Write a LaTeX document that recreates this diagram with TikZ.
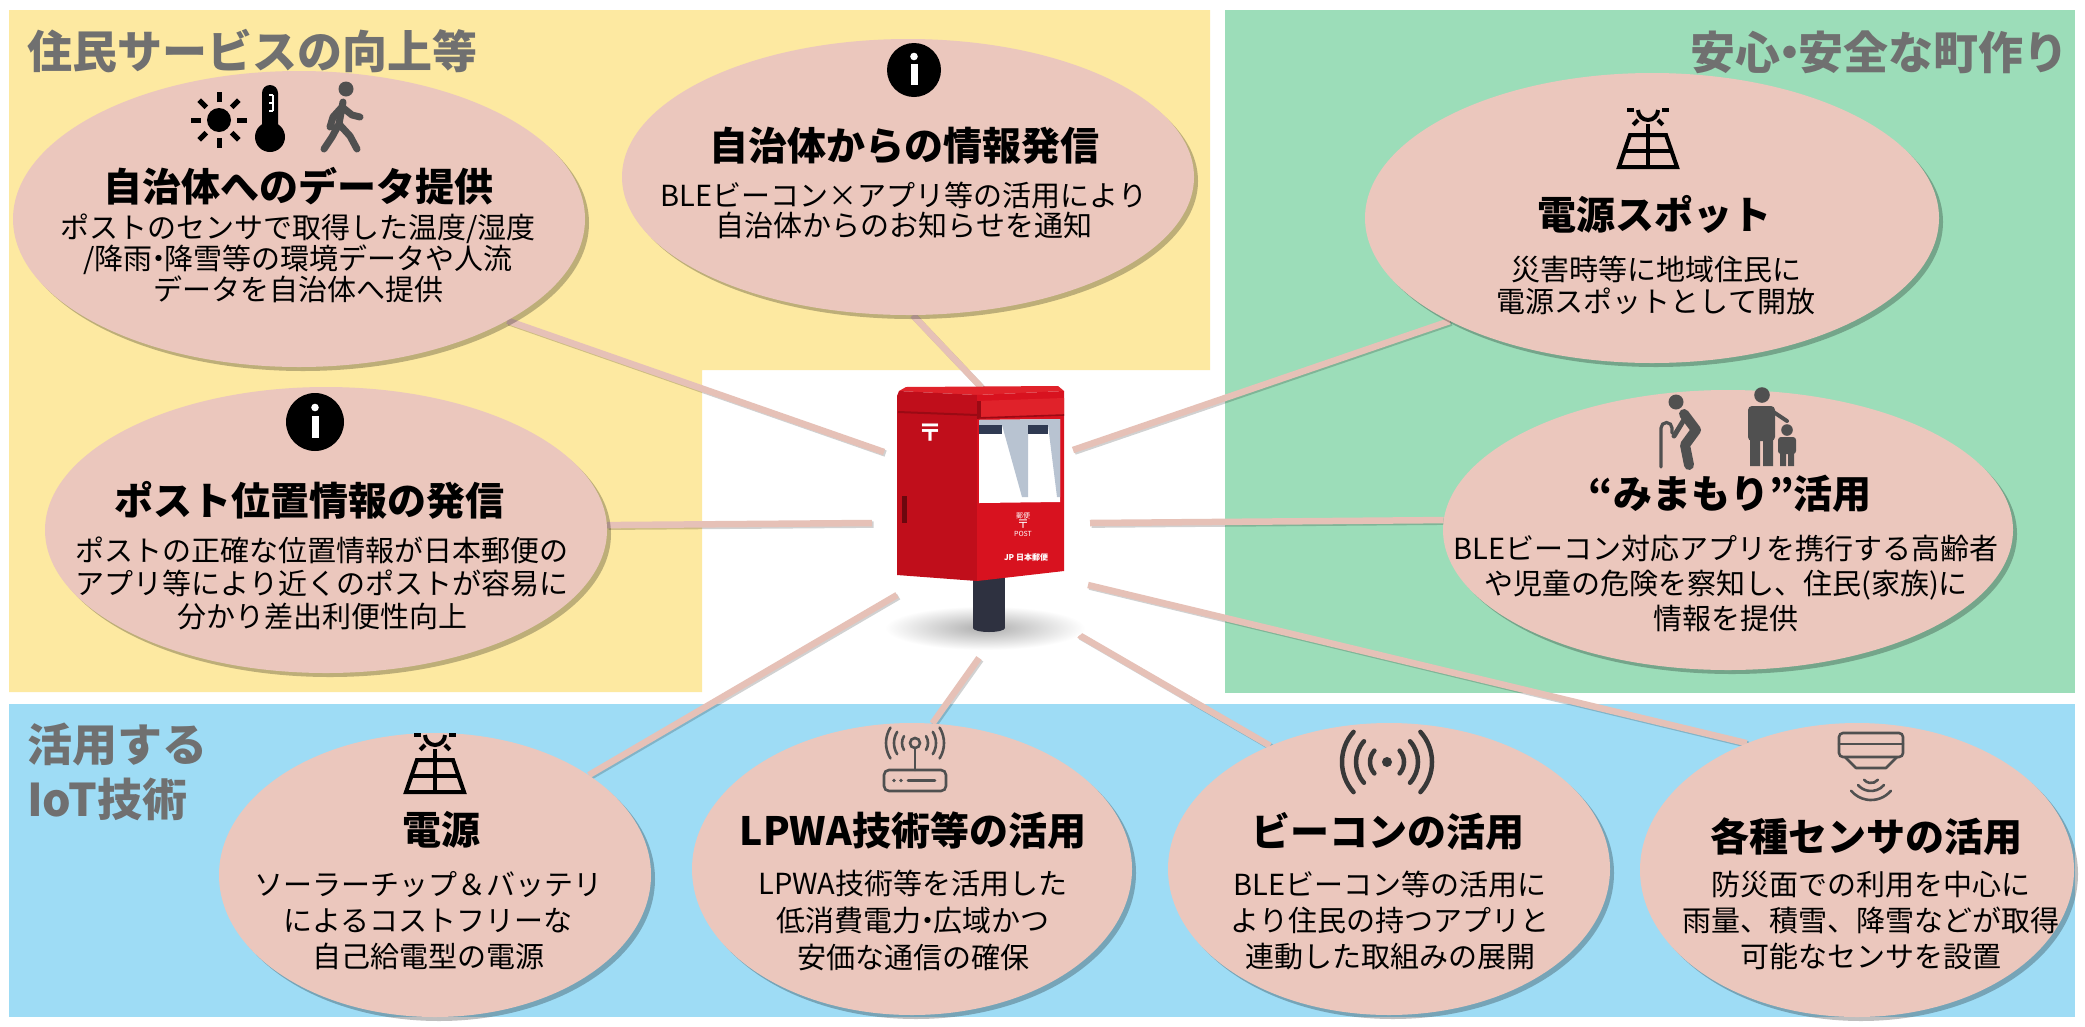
\documentclass[tikz,border=0pt]{standalone}
\usepackage{fontspec}
\setmainfont{Noto Sans CJK JP}
\usetikzlibrary{shapes.geometric,shadows}

\definecolor{bgyellow}{HTML}{FDE9A1}
\definecolor{bggreen}{HTML}{9CDDB9}
\definecolor{bgblue}{HTML}{9EDCF5}
\definecolor{bubble}{HTML}{EBC7BD}
\definecolor{linkc}{HTML}{E6C1B7}
\definecolor{sectgrey}{HTML}{707070}
\definecolor{icongrey}{HTML}{505050}
\definecolor{pbfront}{HTML}{D8121F}
\definecolor{pbleft}{HTML}{C00E1B}
\definecolor{pbband}{HTML}{E0222A}
\definecolor{pbdark}{HTML}{9A0A14}
\definecolor{polec}{HTML}{2E3140}
\definecolor{slotc}{HTML}{2F3A52}
\definecolor{glassc}{HTML}{B8C3D1}

\pgfdeclarelayer{bg}
\pgfdeclarelayer{links}
\pgfsetlayers{bg,links,main}

% narrow middle dot
\newcommand\ndot{\kern-.3em・\kern-.3em}

% connector with a soft offset shade underneath
\newcommand\linkpath[2]{%
  \draw[linkshade] #1 -- #2;
  \draw[link] #1 -- #2;}

% solar panel with a half sun, origin at the top centre
\newcommand\solarglyph[2]{%
  \begin{scope}[shift={(#1,#2)}, line width=4pt, draw=black]
    \draw (-10,8) arc[start angle=180, end angle=0, radius=10];
    \foreach \a in {0,45,135,180} \draw (0,8) ++(\a:14) -- ++(\a:7);
    \draw (0,22) -- (0,33);
    \draw[line join=miter] (-18,33) -- (18,33) -- (29,65) -- (-29,65) -- cycle;
    \draw (-23.5,49) -- (23.5,49);
    \draw (0,33) -- (0,65);
  \end{scope}}

% round information mark
\newcommand\infoglyph[3]{%
  \fill[black] (#1,#2) circle (#3);
  \fill[white] (#1,#2) ++(0,-0.5*#3) circle (3.8);
  \fill[white] (#1,#2) ++(-3.5,-0.22*#3) rectangle ++(7,0.78*#3);}

\tikzset{
  bubblebox/.style={ellipse, fill=bubble, draw=none, inner sep=0pt,
    drop shadow={shadow xshift=4pt, shadow yshift=-4pt, opacity=0.25, fill=black}},
  head/.style={font=\fontsize{39}{44}\selectfont\bfseries, text=black, inner sep=0pt},
  body/.style={align=center, text=black, inner sep=0pt, font=\fontsize{29}{#1}\selectfont},
  sect/.style={font=\fontsize{45}{55}\selectfont\bfseries, text=sectgrey, inner sep=0pt},
  link/.style={line width=6.5pt, draw=linkc},
  linkshade/.style={line width=6.5pt, draw=black, opacity=0.18,
    transform canvas={xshift=1.6pt, yshift=-1.6pt}},
  gline/.style={icongrey, line width=2.6pt, line cap=round},
}

\begin{document}
\begin{tikzpicture}[x=1pt, y=-1pt]
\useasboundingbox (0,0) rectangle (2085,1026);

% coloured theme areas
\begin{pgfonlayer}{bg}
  \fill[white] (0,0) rectangle (2085,1026);
  \fill[bgyellow] (9,10) -- (1210,10) -- (1210,370) -- (702,370) -- (702,692) -- (9,692) -- cycle;
  \fill[bggreen] (1225,10) rectangle (2075,693);
  \fill[bgblue] (9,704) rectangle (2075,1017);
\end{pgfonlayer}

% section captions
\node[sect, anchor=west] (capA) at (27,51) {住民サービスの向上等};
\node[sect, anchor=east] (capB) at (2069,52) {安心\ndot 安全な町作り};
\node[sect, anchor=west, align=left] (capC) at (27,772) {活用する\\IoT技術};

% bubbles
\node[bubblebox, minimum width=572pt, minimum height=296pt] (e1) at (299,219) {};
\node[bubblebox, minimum width=572pt, minimum height=276pt] (e2) at (908,177) {};
\node[bubblebox, minimum width=574pt, minimum height=290pt] (e3) at (1652,218) {};
\node[bubblebox, minimum width=562pt, minimum height=286pt] (e4) at (326,530) {};
\node[bubblebox, minimum width=570pt, minimum height=280pt] (e5) at (1728,530) {};
\node[bubblebox, minimum width=432pt, minimum height=284pt] (e6) at (435,875) {};
\node[bubblebox, minimum width=440pt, minimum height=292pt] (e7) at (912,869) {};
\node[bubblebox, minimum width=442pt, minimum height=292pt] (e8) at (1389,869) {};
\node[bubblebox, minimum width=434pt, minimum height=294pt] (e9) at (1857,870) {};

% inner ends of the spokes around the post box
\coordinate (p1) at (884,452);
\coordinate (p2) at (981,387);
\coordinate (p3) at (1073,450);
\coordinate (p4) at (872,523);
\coordinate (p5) at (1090,523);
\coordinate (p6) at (897,595);
\coordinate (p7) at (979,658);
\coordinate (p8) at (1079,635);
\coordinate (p9) at (1088,585);

\begin{pgfonlayer}{links}
  \linkpath{(e1.-26)}{(p1)}
  \linkpath{(e2.-88)}{(p2)}
  \linkpath{(e3.207)}{(p3)}
  \linkpath{(e4.1.5)}{(p4)}
  \linkpath{(e5.178.5)}{(p5)}
  \linkpath{(e6.33)}{(p6)}
  \linkpath{(e7.82)}{(p7)}
  \linkpath{(e8.134)}{(p8)}
  \linkpath{(e9.131)}{(p9)}
\end{pgfonlayer}

% ---- bubble 1: data for the municipality
\fill[black] (219,120) circle (12);
\foreach \a in {0,45,...,315} \draw[black, line width=5pt] (219,120) ++(\a:18) -- ++(\a:10);
\fill[black, rounded corners=8pt] (262,85) rectangle (278,134);
\fill[black] (270,137) circle (15);
\draw[white, line width=1.6pt] (273,95) -- (273,111) (269,95) -- (273,95) (269,103) -- (273,103) (269,111) -- (273,111);
\fill[icongrey] (346,89) circle (7.5);
\draw[icongrey, line width=7pt, line cap=round, line join=round]
  (343,102) -- (339,124) -- (332,137) -- (324,149)
  (339,124) -- (350,136) -- (357,149)
  (342,107) -- (333,117) -- (330,127)
  (342,107) -- (352,115) -- (360,117);
\node[head] (h1) at (298,186) {自治体へのデータ提供};
\node[body=28] (b1) at (298,258) {ポストのセンサで取得した温度/湿度\\/降雨\ndot 降雪等の環境データや人流\\データを自治体へ提供};

% ---- bubble 2: notices from the municipality
\infoglyph{914}{70}{27}
\node[head] (h2) at (904,146) {自治体からの情報発信};
\node[body=30] (b2) at (904,210) {BLEビーコン×アプリ等の活用により\\自治体からのお知らせを通知};

% ---- bubble 3: power spot
\solarglyph{1648}{102}
\node[head] (h3) at (1654,214) {電源スポット};
\node[body=32] (b3) at (1656,285) {災害時等に地域住民に\\電源スポットとして開放};

% ---- bubble 4: post box location
\infoglyph{315}{422}{29}
\node[head] (h4) at (309,500) {ポスト位置情報の発信};
\node[body=33] (b4) at (322,583) {ポストの正確な位置情報が日本郵便の\\アプリ等により近くのポストが容易に\\分かり差出利便性向上};

% ---- bubble 5: watching over
\fill[icongrey] (1676,402) circle (7.5);
\draw[icongrey, line width=10pt, line cap=round, line join=round]
  (1684,414) -- (1696,430) -- (1685,445) -- (1689,465);
\draw[icongrey, line width=5pt, line cap=round] (1685,418) -- (1674,436);
\draw[icongrey, line width=3.2pt, line cap=round] (1661,467) -- (1661,428) arc[start angle=180, end angle=360, radius=5.5] -- (1672,433);
\fill[icongrey] (1762,395) circle (7.8);
\fill[icongrey, rounded corners=4pt] (1748,406) rectangle (1775,441);
\fill[icongrey] (1750,438) rectangle (1760,466) (1763,438) rectangle (1773,466);
\draw[icongrey, line width=4pt, line cap=round] (1772,411) -- (1787,421);
\fill[icongrey] (1787,430) circle (5.8);
\fill[icongrey, rounded corners=3pt] (1778,437) rectangle (1796,454);
\fill[icongrey] (1780,452) rectangle (1786,466) (1788,452) rectangle (1794,466);
\node[head] (h5) at (1730,494) {“みまもり”活用};
\node[body=35] (b5) at (1726,583) {BLEビーコン対応アプリを携行する高齢者\\や児童の危険を察知し、住民(家族)に\\情報を提供};

% ---- bubble 6: power supply
\solarglyph{435}{727}
\node[head] (h6) at (441,830) {電源};
\node[body=36] (b6) at (428,921) {ソーラーチップ＆バッテリ\\によるコストフリーな\\自己給電型の電源};

% ---- bubble 7: LPWA
\begin{scope}[shift={(915,743)}]
  \draw[gline] (0,0) circle (5);
  \foreach \r in {13,21,29} {
    \draw[gline] (0,0) ++(-32:\r) arc[start angle=-32, end angle=32, radius=\r];
    \draw[gline] (0,0) ++(148:\r) arc[start angle=148, end angle=212, radius=\r];
  }
  \draw[gline] (0,5) -- (0,27);
  \draw[gline, rounded corners=5pt] (-31,27) rectangle (31,48);
  \fill[icongrey] (-21,37.5) circle (1.9) (-14,37.5) circle (1.9);
  \draw[gline] (-7,37.5) -- (20,37.5);
\end{scope}
\node[head] (h7) at (913,831) {LPWA技術等の活用};
\node[body=37] (b7) at (913,920) {LPWA技術等を活用した\\低消費電力\ndot 広域かつ\\安価な通信の確保};

% ---- bubble 8: beacon
\begin{scope}[shift={(1387,762)}]
  \fill[black!78] (0,0) circle (5);
  \foreach \r in {17,31,45} {
    \draw[black!78, line width=4.5pt, line cap=round] (0,0) ++(-42:\r) arc[start angle=-42, end angle=42, radius=\r];
    \draw[black!78, line width=4.5pt, line cap=round] (0,0) ++(138:\r) arc[start angle=138, end angle=222, radius=\r];
  }
\end{scope}
\node[head] (h8) at (1388,831) {ビーコンの活用};
\node[body=36] (b8) at (1390,920) {BLEビーコン等の活用に\\より住民の持つアプリと\\連動した取組みの展開};

% ---- bubble 9: sensors
\begin{scope}[shift={(1871,733)}]
  \draw[gline, rounded corners=4pt] (-32,0) rectangle (32,24);
  \draw[gline] (-32,11) -- (32,11);
  \draw[gline, line join=round] (-26,24) -- (-15,35) -- (15,35) -- (26,24);
  \foreach \r in {9,17,26} \draw[gline] (0,41) ++(40:\r) arc[start angle=40, end angle=140, radius=\r];
\end{scope}
\node[head] (h9) at (1866,837) {各種センサの活用};
\node[body=36] (b9) at (1871,920) {防災面での利用を中心に\\雨量、積雪、降雪などが取得\\可能なセンサを設置};

% ---- the post box
\shade[inner color=black!32, outer color=white] (985,628) ellipse [x radius=100, y radius=22];
\fill[polec] (973,570) rectangle (1005,628);
\fill[polec] (989,628) ellipse [x radius=16, y radius=4];
% top surface, left side and front
\fill[pbband] (899,391) -- (906,387) -- (1058,386) -- (1064,391) -- (977,395) -- cycle;
\fill[pbleft] (897,575) -- (897,396) -- (899,391) -- (977,395) -- (977,581) -- cycle;
\fill[pbfront] (977,395) -- (1064,391) -- (1064,571) -- (977,581) -- cycle;
\draw[pbdark, line width=2pt] (898,412) -- (977,415);
\fill[pbband] (977,401) -- (1064,398) -- (1064,415) -- (977,418) -- cycle;
\draw[pbdark, line width=1.6pt] (977,418) -- (1064,415);
\fill[pbdark] (977,401) rectangle (981,418);
% letter slots window
\fill[white] (979,420) -- (1060,419) -- (1060,502) -- (979,503) -- cycle;
\fill[glassc] (979,420) -- (1060,419) -- (1060,425) -- (979,425) -- cycle;
\fill[glassc] (1002,425) -- (1028,425) -- (1028,497) -- (1022,497) -- cycle;
\fill[glassc] (1048,425) -- (1060,425) -- (1060,497) -- (1057,497) -- cycle;
\fill[slotc] (979,425) rectangle (1002,434);
\fill[slotc] (1028,425) rectangle (1048,434);
\fill[pbdark!70!black] (902,496) rectangle (907,523);
\node[text=white, font=\fontsize{24}{24}\selectfont\bfseries, inner sep=0pt] (pbmark) at (930,433) {〒};
\node[text=white, font=\fontsize{7}{8}\selectfont, align=center, inner sep=0pt] (pbpost) at (1023,525) {郵便\\{\fontsize{12}{12}\selectfont 〒}\\POST};
\node[text=white, font=\fontsize{8}{8}\selectfont\bfseries, inner sep=0pt] (pblogo) at (1026,557) {JP 日本郵便};

\end{tikzpicture}
\end{document}
